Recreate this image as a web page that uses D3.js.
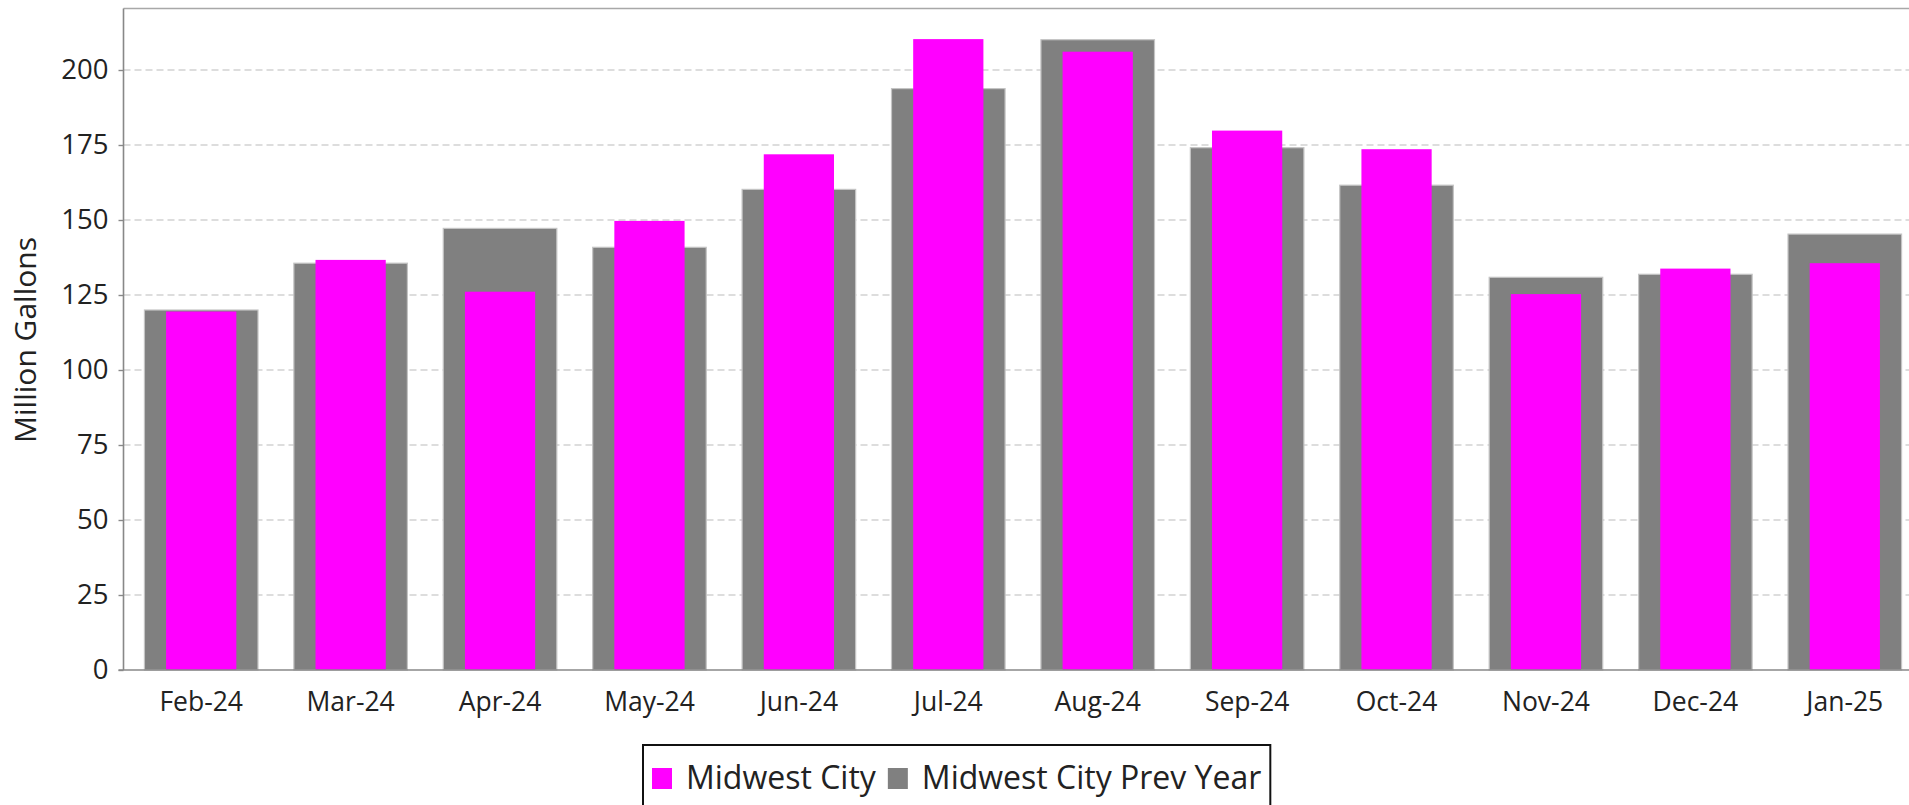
<!DOCTYPE html>
<html>
<head>
<meta charset="utf-8">
<script src="https://cdn.jsdelivr.net/npm/d3@7/dist/d3.min.js"></script>
<style>
  html, body { margin: 0; padding: 0; background: #fff; overflow: hidden; }
  svg { display: block; }
  text { font-family: "Open Sans", "Noto Sans", sans-serif; fill: #222; }
</style>
</head>
<body>
<svg id="chart" width="1909" height="805"></svg>
<script>
const categories = ["Feb-24","Mar-24","Apr-24","May-24","Jun-24","Jul-24","Aug-24","Sep-24","Oct-24","Nov-24","Dec-24","Jan-25"];
const currentYear = [119.5, 136.7, 126.1, 149.7, 171.9, 210.3, 206.1, 179.8, 173.6, 125.3, 133.8, 135.6];
const prevYear    = [120.0, 135.6, 147.2, 140.9, 160.2, 193.8, 210.1, 174.1, 161.6, 130.9, 131.9, 145.3];
const yTicks = [0, 25, 50, 75, 100, 125, 150, 175, 200];
const seriesNames = ["Midwest City", "Midwest City Prev Year"];
const seriesColors = ["#ff00ff", "#808080"];

(function () {
const svg = d3.select("#chart");
const pLeft = 123.5, pTop = 8.5, pBottom = 670, pRight = 1909;

const x = d3.scaleBand().domain(categories).range([126.5, 1919.5]).padding(0);
const y = d3.scaleLinear().domain([0, 220.5]).range([pBottom, pTop]);

// gridlines
svg.append("g").selectAll("line").data(yTicks.filter(d => d > 0)).join("line")
  .attr("x1", pLeft).attr("x2", pRight)
  .attr("y1", d => y(d)).attr("y2", d => y(d))
  .attr("stroke", "#d2d2d2").attr("stroke-width", 1.3).attr("stroke-dasharray", "7,4");

// top border
svg.append("line").attr("x1", pLeft).attr("x2", pRight).attr("y1", pTop).attr("y2", pTop)
  .attr("stroke", "#a8a8a8").attr("stroke-width", 1.5);

const step = x.step();
const wPrev = step * 0.76, wCur = step * 0.47;

// previous year bars (behind)
svg.append("g").selectAll("rect").data(categories).join("rect")
  .attr("x", d => x(d) + (step - wPrev) / 2)
  .attr("width", wPrev)
  .attr("y", (d, i) => y(prevYear[i]))
  .attr("height", (d, i) => pBottom - y(prevYear[i]))
  .attr("fill", seriesColors[1])
  .attr("stroke", "#c4c4c4").attr("stroke-width", 1.2);

// current year bars
svg.append("g").selectAll("rect").data(categories).join("rect")
  .attr("x", d => x(d) + (step - wCur) / 2)
  .attr("width", wCur)
  .attr("y", (d, i) => y(currentYear[i]))
  .attr("height", (d, i) => pBottom - y(currentYear[i]))
  .attr("fill", seriesColors[0]);

// y axis
const yAxis = svg.append("g").attr("transform", `translate(${pLeft},0)`)
  .call(d3.axisLeft(y).tickValues(yTicks).tickSize(5).tickPadding(10).tickSizeOuter(0));
yAxis.select(".domain").attr("stroke", "#888").attr("stroke-width", 1.6)
  .attr("d", `M0,${pTop}V${pBottom}`);
yAxis.selectAll(".tick line").attr("stroke", "#888").attr("stroke-width", 1.4);
yAxis.selectAll(".tick text").attr("font-size", 27.5).attr("font-family", "Open Sans").attr("fill", "#222");

// x axis
const xAxis = svg.append("g").attr("transform", `translate(0,${pBottom})`)
  .call(d3.axisBottom(x).tickSize(0).tickPadding(22).tickSizeOuter(0));
xAxis.select(".domain").attr("stroke", "#888").attr("stroke-width", 1.6)
  .attr("d", `M${pLeft - 5},0H${pRight}`);
xAxis.selectAll(".tick text").attr("font-size", 26.5).attr("font-family", "Open Sans").attr("fill", "#222");

// y title
svg.append("text")
  .attr("transform", `translate(36,340) rotate(-90)`)
  .attr("text-anchor", "middle")
  .attr("font-size", 30)
  .text("Million Gallons");

// legend
const lg = svg.append("g");
const box = lg.append("rect").attr("fill", "#fff").attr("stroke", "#111").attr("stroke-width", 2);
let cx = 652;
seriesNames.forEach((name, i) => {
  lg.append("rect").attr("x", cx).attr("y", 768).attr("width", 20).attr("height", 21)
    .attr("fill", seriesColors[i]);
  const t = lg.append("text").attr("x", cx + 34).attr("y", 789).attr("font-size", 32).text(name);
  const w = t.node().getComputedTextLength();
  cx = cx + 34 + w + 12;
});
box.attr("x", 643).attr("y", 745).attr("width", (cx - 12 + 9) - 643).attr("height", 80);
})();
</script>
</body>
</html>
